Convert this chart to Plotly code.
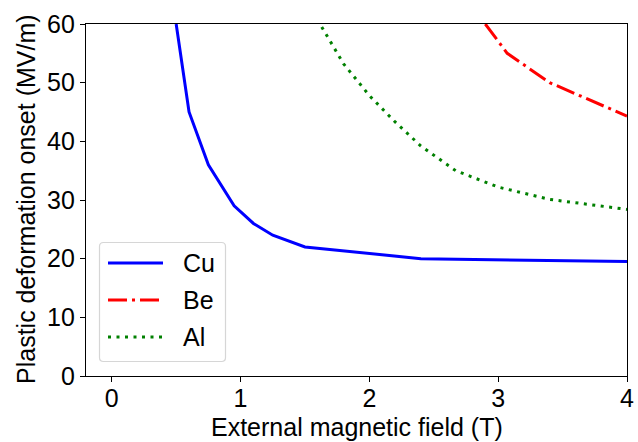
import plotly.graph_objects as go

# Magnetic field (T) and plastic deformation onset field (MV/m) per material
cu_field = [0.5, 0.6, 0.75, 0.95, 1.1, 1.25, 1.5, 2.4, 4.0]
cu_onset = [60.0, 45.0, 36.0, 29.0, 26.0, 24.0, 22.0, 20.0, 19.5]

be_field = [2.9, 3.07, 3.4, 4.0]
be_onset = [60.0, 55.0, 50.0, 44.3]

al_field = [1.63, 1.8, 2.0, 2.2, 2.4, 2.67, 3.0, 3.4, 4.0]
al_onset = [59.5, 53.2, 47.8, 43.3, 39.2, 35.0, 32.2, 30.1, 28.4]

x_ticks = [0, 1, 2, 3, 4]
y_ticks = [0, 10, 20, 30, 40, 50, 60]

materials = ["Cu", "Be", "Al"]
colors = {"Cu": "#0000ff", "Be": "#ff0000", "Al": "#008000"}
dashes = {"Cu": "solid", "Be": "19px,5px,3px,5px", "Al": "3px,5.5px"}
series = {"Cu": (cu_field, cu_onset), "Be": (be_field, be_onset), "Al": (al_field, al_onset)}

W, H = 638, 442
ML, MR, MT, MB = 86, 11, 24, 66
PW, PH = W - ML - MR, H - MT - MB
FONT = "Liberation Sans, Arial, Helvetica, sans-serif"
FS = 25

fig = go.Figure()
for name in materials:
    xs, ys = series[name]
    fig.add_trace(go.Scatter(
        x=xs, y=ys, mode="lines", name=name, showlegend=False,
        line=dict(color=colors[name], width=3, dash=dashes[name]),
    ))


def px(x):
    return (x - ML) / PW


def py(y):
    return (H - MB - y) / PH


# Legend box with rounded corners, drawn in paper space
x0, x1, y0, y1, r = 99.5, 225.5, 242.5, 361.5, 4
path = (
    f"M{px(x0 + r)},{py(y0)} L{px(x1 - r)},{py(y0)} Q{px(x1)},{py(y0)} {px(x1)},{py(y0 + r)} "
    f"L{px(x1)},{py(y1 - r)} Q{px(x1)},{py(y1)} {px(x1 - r)},{py(y1)} "
    f"L{px(x0 + r)},{py(y1)} Q{px(x0)},{py(y1)} {px(x0)},{py(y1 - r)} "
    f"L{px(x0)},{py(y0 + r)} Q{px(x0)},{py(y0)} {px(x0 + r)},{py(y0)} Z"
)
fig.add_shape(type="path", path=path, xref="paper", yref="paper",
              line=dict(color="#d6d6d6", width=1.2), fillcolor="rgba(255,255,255,0.8)",
              layer="above")

row_y = [263, 300, 337]
for name, yy in zip(materials, row_y):
    fig.add_shape(type="line", xref="paper", yref="paper",
                  x0=px(108), x1=px(163), y0=py(yy), y1=py(yy),
                  line=dict(color=colors[name], width=3, dash=dashes[name]),
                  layer="above")
    fig.add_annotation(text=name, xref="paper", yref="paper",
                       x=px(181), y=py(yy), xanchor="left", yanchor="middle",
                       showarrow=False, font=dict(family=FONT, size=FS, color="black"))

# Axis titles placed as annotations for precise positioning
fig.add_annotation(text="External magnetic field (T)", xref="paper", yref="paper",
                   x=0.5, y=py(427), xanchor="center", yanchor="middle",
                   showarrow=False, font=dict(family=FONT, size=FS, color="black"))
fig.add_annotation(text="Plastic deformation onset (MV/m)", xref="paper", yref="paper",
                   x=px(26), y=py(199), xanchor="center", yanchor="middle", textangle=-90,
                   showarrow=False, font=dict(family=FONT, size=FS, color="black"))

axis_common = dict(
    showgrid=False, zeroline=False, showline=True, linecolor="black", linewidth=1.2,
    mirror=True, ticks="outside", ticklen=5, tickwidth=1.2, tickcolor="black",
    tickfont=dict(family=FONT, size=FS, color="black"), automargin=False,
)

fig.update_layout(
    width=W, height=H,
    margin=dict(l=ML, r=MR, t=MT, b=MB),
    paper_bgcolor="white", plot_bgcolor="white",
    font=dict(family=FONT, size=FS, color="black"),
    xaxis=dict(range=[-0.2, 4.0], tickvals=x_ticks, ticklabelstandoff=-5, **axis_common),
    yaxis=dict(range=[0, 60], tickvals=y_ticks, **axis_common),
)

fig.write_html("out.html")
